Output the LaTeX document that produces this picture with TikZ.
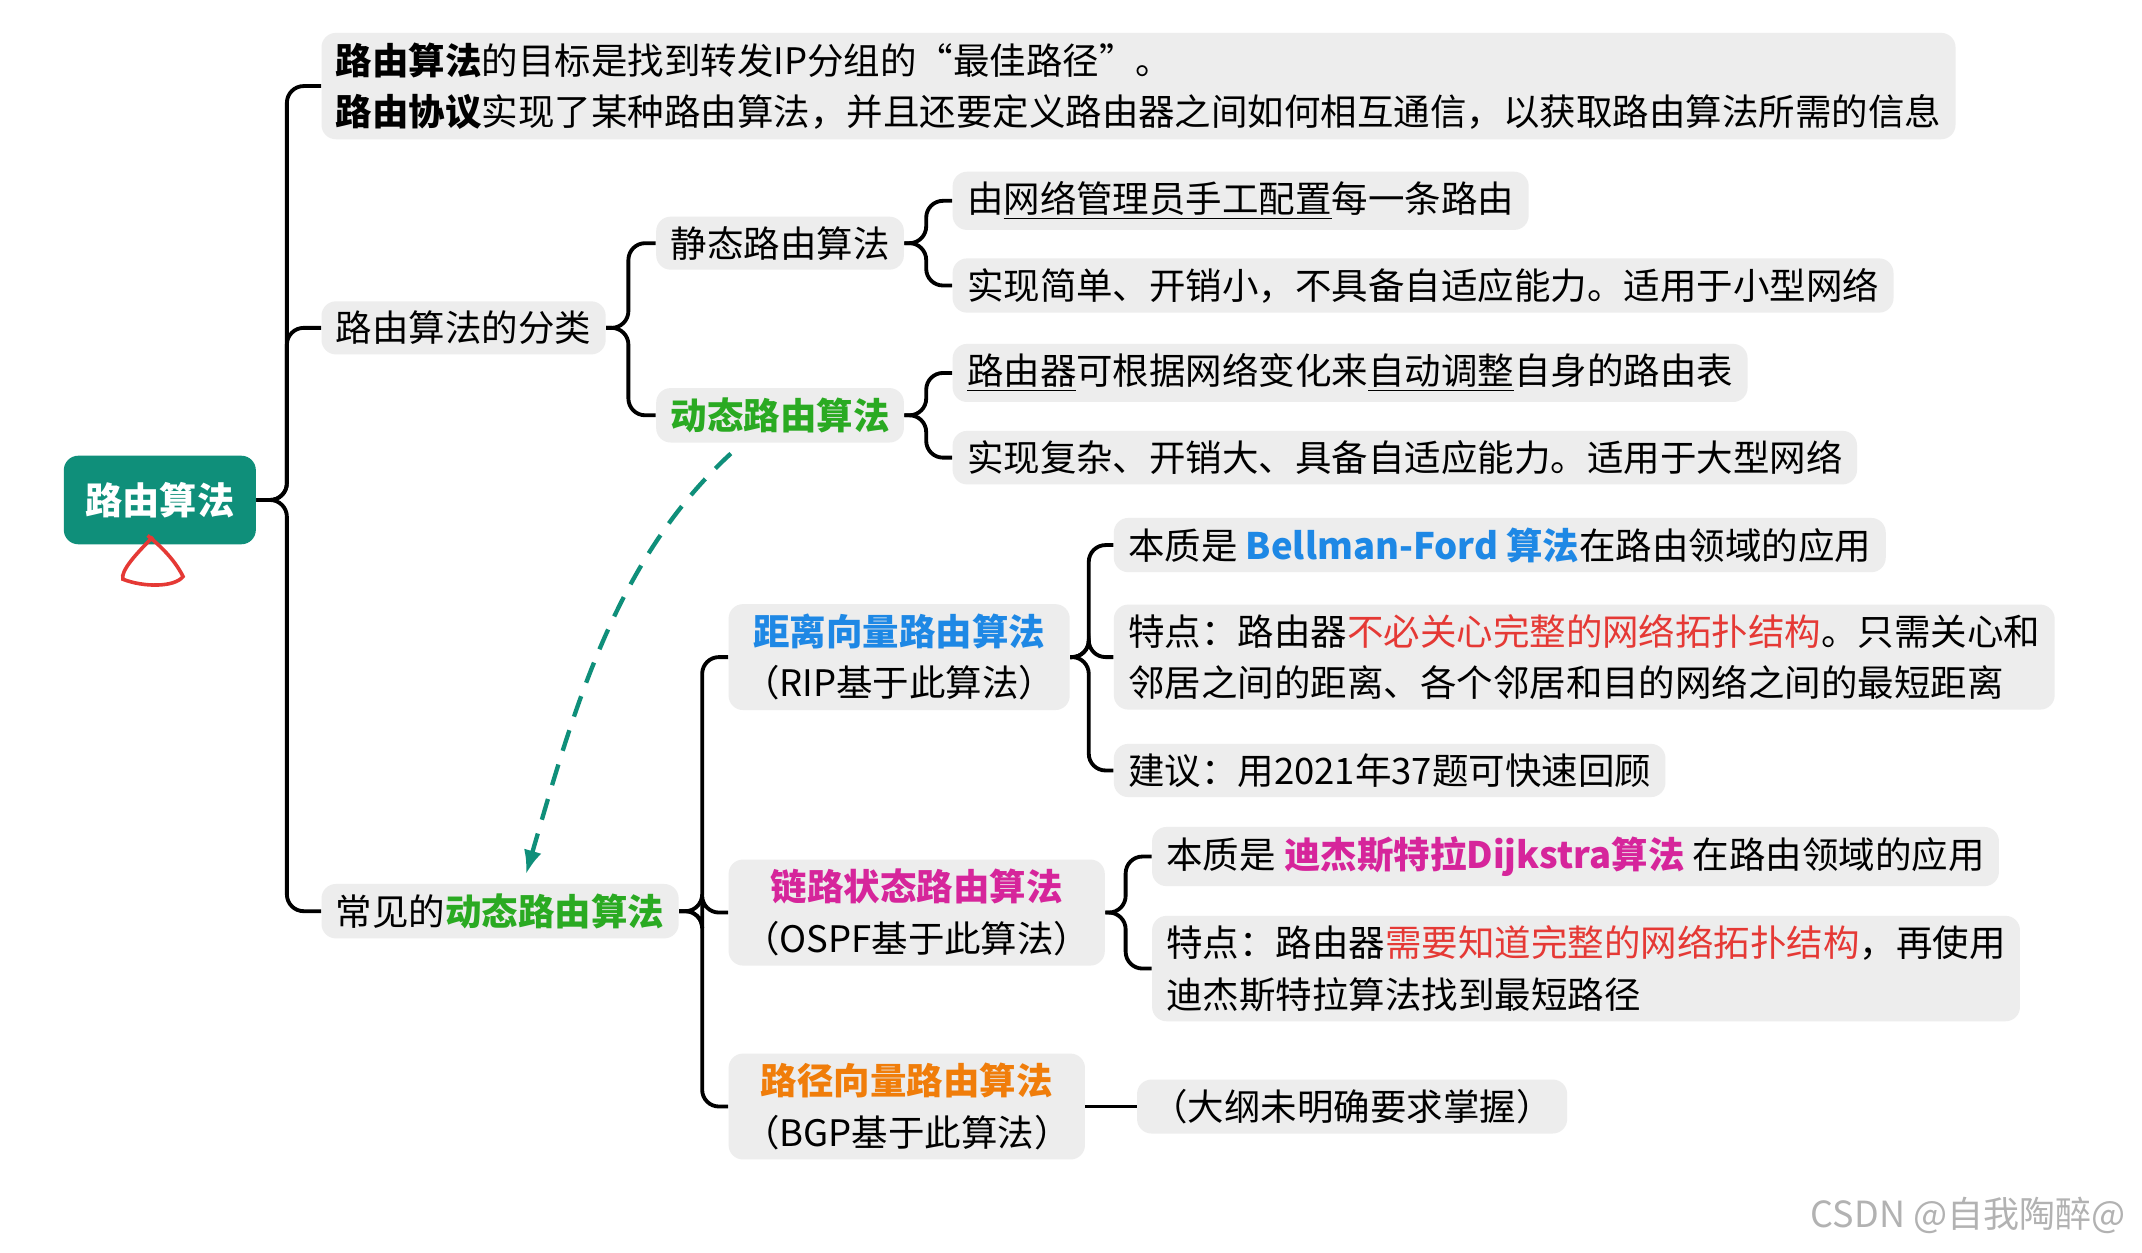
\documentclass[tikz,border=0pt]{standalone}
\usepackage{fontspec}
\setmainfont{Noto Sans CJK SC}
\usepackage{xcolor}
\definecolor{tl}{HTML}{0F8F7A}
\definecolor{bx}{HTML}{EDEDED}
\definecolor{cb}{HTML}{1E88E5}
\definecolor{cg}{HTML}{2AAA22}
\definecolor{cm}{HTML}{D6259B}
\definecolor{co}{HTML}{F07D0A}
\definecolor{cr}{HTML}{E53935}
\usetikzlibrary{arrows.meta}
\begin{document}
\begin{tikzpicture}[x=0.02cm,y=-0.02cm,
  box/.style={fill=bx,rounded corners=6pt,inner xsep=6pt,inner ysep=4pt,align=left,anchor=west,font=\fontsize{15.2}{21.5}\selectfont},
  cbox/.style={box,align=center},
  ln/.style={draw=black,line width=1.6pt,rounded corners=7pt}]
\useasboundingbox (0,0) rectangle (1568,917);
\fill[white] (0,0) rectangle (1568,917);
\node[fill=tl,rounded corners=6pt,text=white,font=\fontsize{15.5}{18}\selectfont\bfseries,inner xsep=9pt,inner ysep=11pt] (root) at (117,366) {路由算法};
\draw[cr,line width=1.5pt] (112,393) .. controls (100,405) and (88,418) .. (90,424) .. controls (105,430) and (128,430) .. (134,422) .. controls (128,410) and (118,400) .. (108,392);
\node[box] (top) at (235,63) {\textbf{路由算法}的目标是找到转发IP分组的“最佳路径”。\\\textbf{路由协议}实现了某种路由算法，并且还要定义路由器之间如何相互通信，以获取路由算法所需的信息};
\node[box] (cls) at (235,240) {路由算法的分类};
\node[box] (st) at (480,178) {静态路由算法};
\node[box] (dy) at (480,304) {\textcolor{cg}{\textbf{动态路由算法}}};
\node[box] (l1) at (697,147) {由\underline{网络管理员手工配置}每一条路由};
\node[box] (l2) at (697,209) {实现简单、开销小，不具备自适应能力。适用于小型网络};
\node[box] (l3) at (697,273) {\underline{路由器}可根据网络变化来\underline{自动调整}自身的路由表};
\node[box] (l4) at (697,335) {实现复杂、开销大、具备自适应能力。适用于大型网络};
\node[box] (cm) at (235,667) {常见的\textcolor{cg}{\textbf{动态路由算法}}};
\node[cbox] (dv) at (533,481) {\textcolor{cb}{\textbf{距离向量路由算法}}\\（RIP基于此算法）};
\node[box] (d1) at (815,399) {本质是 \textcolor{cb}{\textbf{Bellman-Ford 算法}}在路由领域的应用};
\node[box] (d2) at (815,481) {特点：路由器\textcolor{cr}{不必关心完整的网络拓扑结构}。只需关心和\\邻居之间的距离、各个邻居和目的网络之间的最短距离};
\node[box] (d3) at (815,564) {建议：用2021年37题可快速回顾};
\node[cbox] (ls) at (533,668) {\textcolor{cm}{\textbf{链路状态路由算法}}\\（OSPF基于此算法）};
\node[box] (s1) at (843,627) {本质是 \textcolor{cm}{\textbf{迪杰斯特拉Dijkstra算法}} 在路由领域的应用};
\node[box] (s2) at (843,709) {特点：路由器\textcolor{cr}{需要知道完整的网络拓扑结构}，再使用\\迪杰斯特拉算法找到最短路径};
\node[cbox] (pv) at (533,810) {\textcolor{co}{\textbf{路径向量路由算法}}\\（BGP基于此算法）};
\node[box] (p1) at (832,810) {（大纲未明确要求掌握）};
\foreach \c in {top,cls,cm} \draw[ln] (root.east) -- (210,366) |- (\c.west);
\foreach \c in {st,dy} \draw[ln] (cls.east) -- (460,240) |- (\c.west);
\foreach \c in {l1,l2} \draw[ln] (st.east) -- (678,178) |- (\c.west);
\foreach \c in {l3,l4} \draw[ln] (dy.east) -- (678,304) |- (\c.west);
\foreach \c in {dv,ls,pv} \draw[ln] (cm.east) -- (514,667) |- (\c.west);
\foreach \c in {d1,d2,d3} \draw[ln] (dv.east) -- (797,481) |- (\c.west);
\foreach \c in {s1,s2} \draw[ln] (ls.east) -- (824,668) |- (\c.west);
\draw[ln] (pv.east) -- (p1.west);
\draw[tl,line width=1.8pt,dash pattern=on 9pt off 6pt,-{Latex[length=10pt]}] (535,332) .. controls (450,410) and (420,520) .. (385,640);
\node[text=gray!60,font=\fontsize{15}{18}\selectfont,anchor=east] (wm) at (1562,890) {CSDN @自我陶醉@};
\end{tikzpicture}
\end{document}
